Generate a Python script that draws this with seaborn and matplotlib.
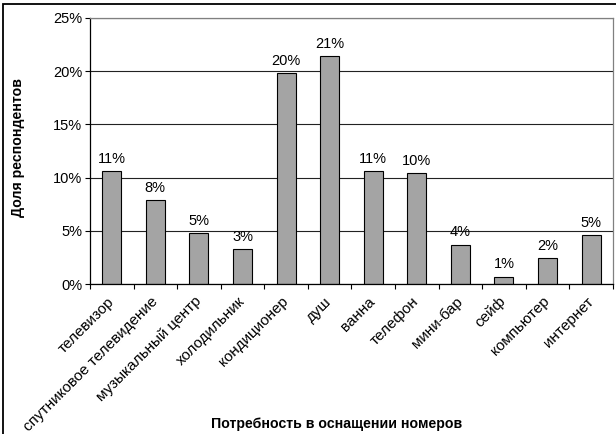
"""
Потребность в оснащении номеров - bar chart
"""

import matplotlib.pyplot as plt
import matplotlib.patches as mpatches
from matplotlib.ticker import FixedLocator, PercentFormatter
import seaborn as sns
import pandas as pd

categories = ['телевизор', 'спутниковое телевидение', 'музыкальный центр',
              'холодильник', 'кондиционер', 'душ', 'ванна', 'телефон',
              'мини-бар', 'сейф', 'компьютер', 'интернет']
shares = [10.6, 7.9, 4.8, 3.3, 19.8, 21.4, 10.6, 10.4, 3.7, 0.7, 2.4, 4.6]
y_ticks = [0, 5, 10, 15, 20, 25]

df = pd.DataFrame({'category': categories, 'share': shares})

sns.set_style('white')
plt.rcParams['font.family'] = ['Liberation Sans', 'DejaVu Sans']
plt.rcParams['text.color'] = 'black'
plt.rcParams['xtick.color'] = 'black'
plt.rcParams['ytick.color'] = 'black'
plt.rcParams['axes.labelcolor'] = 'black'

FS = 10.5

fig = plt.figure(figsize=(6.16, 4.34), dpi=100)
ax = fig.add_axes([0.146, 0.3456, 0.849, 0.613])

sns.barplot(data=df, x='category', y='share', color='#a4a4a4',
            edgecolor='black', linewidth=0.8, width=0.435, saturation=1, ax=ax)

# value labels above bars
for i, v in enumerate(shares):
    ax.annotate(f'{round(v):.0f}%', (i, v), xytext=(0, 6), textcoords='offset points',
                ha='center', va='baseline', fontsize=FS)

ax.set_ylim(0, 25)
ax.set_xlim(-0.5, len(categories) - 0.5)
ax.set_yticks(y_ticks)
ax.yaxis.set_major_formatter(PercentFormatter(decimals=0))
ax.yaxis.grid(True, color='#222222', linewidth=0.8)
ax.set_axisbelow(True)

# ticks sit between categories
ax.xaxis.set_minor_locator(FixedLocator([i - 0.5 for i in range(len(categories) + 1)]))
ax.tick_params(axis='x', which='major', length=0, pad=11)
ax.tick_params(axis='x', which='minor', length=3.6, width=0.8, direction='out', bottom=True)
ax.tick_params(axis='y', length=3.6, width=0.8, direction='out', left=True, pad=2, labelsize=FS)
ax.set_xticks(range(len(categories)))
ax.set_xticklabels(categories, rotation=45, ha='right', va='center',
                   rotation_mode='anchor', fontsize=11)

for side in ['left', 'bottom']:
    ax.spines[side].set_color('black')
    ax.spines[side].set_linewidth(0.9)
for side in ['top', 'right']:
    ax.spines[side].set_color('#808080')
    ax.spines[side].set_linewidth(0.9)

ax.set_xlabel('')
ax.set_ylabel('')
fig.text(0.547, 0.022, 'Потребность в оснащении номеров', ha='center', va='center',
         fontsize=FS - 0.3, fontweight='bold')
fig.text(0.030, 0.661, 'Доля респондентов', ha='center', va='center', rotation=90,
         fontsize=FS - 0.3, fontweight='bold')

# chart area border
fig.patches.append(mpatches.Rectangle((0.005, -0.1), 1.2, 1.09, transform=fig.transFigure,
                                      fill=False, edgecolor='black', linewidth=1.3))

fig.savefig('out.png', dpi=100)
